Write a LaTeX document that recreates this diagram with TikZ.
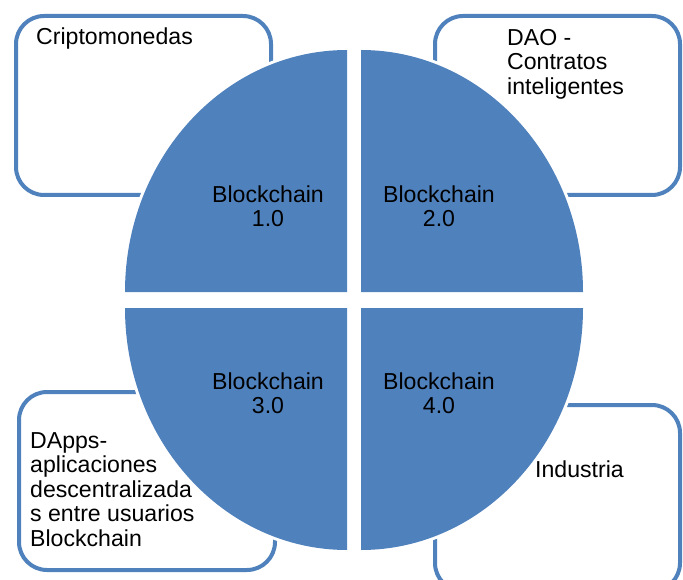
\documentclass[tikz,border=0pt]{standalone}
\usepackage{fontspec}
\setmainfont{Liberation Sans}
\definecolor{azul}{HTML}{4F81BD}
\tikzset{
	caja/.style={draw=azul,line width=4pt,fill=white,rounded corners=28pt},
	cuarto/.style={fill=azul,preaction={draw=white,line width=6pt}},
	texto/.style={anchor=north west,inner sep=0pt,align=left,font=\fontsize{23.1}{24.5}\selectfont},
	etiqueta/.style={align=center,inner sep=0pt,font=\fontsize{23.1}{24.5}\selectfont}
}

\begin{document}
\begin{tikzpicture}[x=1pt,y=-1pt]
	\useasboundingbox (0,0) rectangle (683,580);
	\foreach \cx/\cy/\w/\h [count=\n] in {143.5/105.5/255/179, 557.5/105.5/245/179, 147/481/256/178, 557.5/498/245/186}
		\node[caja,minimum width=\w,minimum height=\h] (C\n) at (\cx,\cy) {};
	\foreach \qx/\qy/\a in {347/292/90, 361/292/0, 347/308/180, 361/308/270}
		\fill[cuarto] (\qx,\qy) -- +(\a:222pt and 242pt) arc[start angle=\a,delta angle=90,x radius=222pt,y radius=242pt] -- cycle;
	\foreach \lx/\ly/\v [count=\n] in {268/206/1.0, 439/206/2.0, 268/393/3.0, 439/393/4.0}
		\node[etiqueta] (B\n) at (\lx,\ly) {Blockchain\\\v};

	\node[texto] (cripto) at (36,28) {Criptomonedas};
	\node[texto] (dao) at (507,29) {DAO -\\Contratos\\inteligentes};
	\node[texto] (dapps) at (30,432) {DApps-\\aplicaciones\\descentralizada\\s entre usuarios\\Blockchain};
	\node[texto] (industria) at (535,461) {Industria};
\end{tikzpicture}
\end{document}
